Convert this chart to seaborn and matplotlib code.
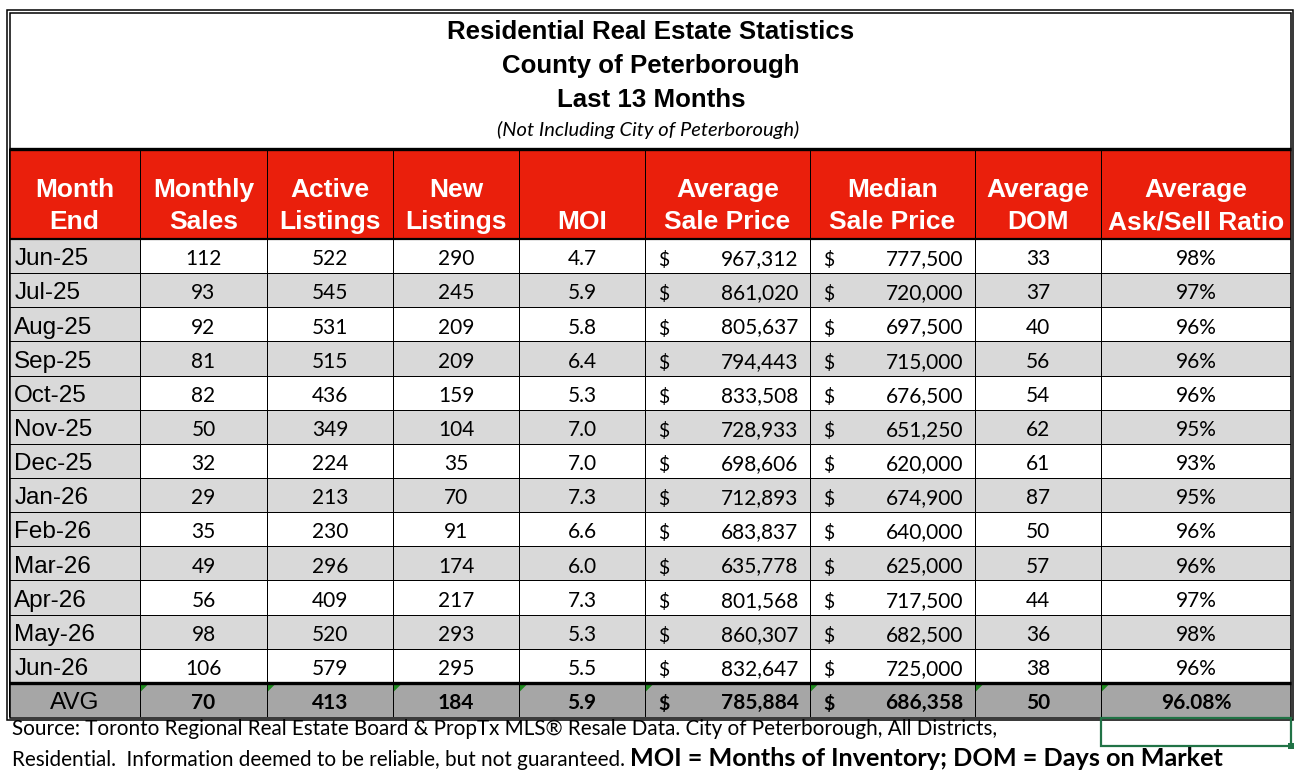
import matplotlib
matplotlib.use("Agg")
import matplotlib.pyplot as plt
import numpy as np
import pandas as pd
import seaborn as sns
from matplotlib.colors import ListedColormap

months = ["Jun-25", "Jul-25", "Aug-25", "Sep-25", "Oct-25", "Nov-25", "Dec-25",
          "Jan-26", "Feb-26", "Mar-26", "Apr-26", "May-26", "Jun-26"]
monthly_sales = [112, 93, 92, 81, 82, 50, 32, 29, 35, 49, 56, 98, 106]
active_listings = [522, 545, 531, 515, 436, 349, 224, 213, 230, 296, 409, 520, 579]
new_listings = [290, 245, 209, 209, 159, 104, 35, 70, 91, 174, 217, 293, 295]
moi = [4.7, 5.9, 5.8, 6.4, 5.3, 7.0, 7.0, 7.3, 6.6, 6.0, 7.3, 5.3, 5.5]
avg_sale_price = [967312, 861020, 805637, 794443, 833508, 728933, 698606,
                  712893, 683837, 635778, 801568, 860307, 832647]
median_sale_price = [777500, 720000, 697500, 715000, 676500, 651250, 620000,
                     674900, 640000, 625000, 717500, 682500, 725000]
avg_dom = [33, 37, 40, 56, 54, 62, 61, 87, 50, 57, 44, 36, 38]
ask_sell_ratio = [98, 97, 96, 96, 96, 95, 93, 95, 96, 96, 97, 98, 96]

avg_row = ["AVG", "70", "413", "184", "5.9", "785,884", "686,358", "50", "96.08%"]

headers = [("Month", "End"), ("Monthly", "Sales"), ("Active", "Listings"), ("New", "Listings"),
           ("", "MOI"), ("Average", "Sale Price"), ("Median", "Sale Price"),
           ("Average", "DOM"), ("Average", "Ask/Sell Ratio")]

title_lines = ["Residential Real Estate Statistics", "County of Peterborough", "Last 13 Months"]
subtitle = "(Not Including City of Peterborough)"
source_1 = ("Source: Toronto Regional Real Estate Board & PropTx MLS\u00ae Resale Data. "
            "City of Peterborough, All Districts,")
source_2 = "Residential.  Information deemed to be reliable, but not guaranteed. "
source_bold = "MOI = Months of Inventory; DOM = Days on Market"

table = pd.DataFrame({
    "month": months,
    "sales": [str(v) for v in monthly_sales],
    "active": [str(v) for v in active_listings],
    "new": [str(v) for v in new_listings],
    "moi": [f"{v:.1f}" for v in moi],
    "avg_price": [f"{v:,}" for v in avg_sale_price],
    "median_price": [f"{v:,}" for v in median_sale_price],
    "dom": [str(v) for v in avg_dom],
    "ratio": [f"{v}%" for v in ask_sell_ratio],
})
kinds = ["month", "center", "center", "center", "center", "money", "money", "center", "center"]

W, H = 1303, 775
COL_EDGES = [9, 140, 267, 393, 519, 645, 810, 975, 1101, 1291]
HEAD_Y = (149, 239)
BODY_Y = (239, 717)
N_BODY = len(months) + 1

RED = "#ea1f0c"
LIGHT = "#d9d9d9"
DARK = "#a6a6a6"
GREEN = "#217346"
cmap = ListedColormap(["white", LIGHT, RED, DARK])

ARIAL = "Liberation Sans"
CALIBRI = "Lato"

fig = plt.figure(figsize=(W / 100, H / 100), dpi=100)
fig.patch.set_facecolor("white")


def px_axes(x0, y0, x1, y1):
    return fig.add_axes([x0 / W, 1 - y1 / H, (x1 - x0) / W, (y1 - y0) / H])


def draw_cells(ax, codes):
    sns.heatmap(codes, ax=ax, cmap=cmap, vmin=-0.5, vmax=3.5, cbar=False,
                linewidths=0.6, linecolor="black", xticklabels=False, yticklabels=False)


for j, col in enumerate(table.columns):
    x0, x1 = COL_EDGES[j], COL_EDGES[j + 1]

    axh = px_axes(x0, HEAD_Y[0], x1, HEAD_Y[1])
    draw_cells(axh, np.array([[2]]))
    for line, yb in zip(headers[j], [0.535, 0.89]):
        axh.text(0.5, yb, line, ha="center", va="baseline", color="white",
                 fontsize=19, fontweight="bold", family=ARIAL)

    codes = np.array([1 if (j == 0 or i % 2 == 1) else 0 for i in range(len(months))] + [3])
    axb = px_axes(x0, BODY_Y[0], x1, BODY_Y[1])
    draw_cells(axb, codes.reshape(-1, 1))

    values = list(table[col]) + [avg_row[j]]
    for i, val in enumerate(values):
        is_avg = i == len(months)
        y = i + 0.77
        weight = "bold" if (is_avg and j > 0) else "normal"
        if kinds[j] == "month":
            if is_avg:
                axb.text(0.5, y, val, ha="center", va="baseline", fontsize=17.5, family=ARIAL)
            else:
                axb.text(0.04, y, val, ha="left", va="baseline", fontsize=17.5, family=ARIAL)
        elif kinds[j] == "money":
            axb.text(0.08, y + 0.03, "$", ha="left", va="baseline", fontsize=14,
                     family=CALIBRI, fontweight=weight)
            axb.text(0.93, y, val, ha="right", va="baseline", fontsize=15,
                     family=CALIBRI, fontweight=weight)
        else:
            axb.text(0.5, y, val, ha="center", va="baseline", fontsize=15,
                     family=CALIBRI, fontweight=weight)

# overlay for title, borders and footer
ov = fig.add_axes([0, 0, 1, 1])
ov.set_facecolor("none")
ov.set_xlim(0, W)
ov.set_ylim(H, 0)
ov.axis("off")

title_y = [32, 66, 100]
for line, y in zip(title_lines, title_y):
    ov.text(651, y, line, ha="center", va="center", fontsize=18.6, fontweight="bold", family=ARIAL)
ov.text(648, 130, subtitle, ha="center", va="center", fontsize=14.5, style="italic", family=CALIBRI)

# double outer border
ov.add_patch(plt.Rectangle((7, 10), 1286, 710, fill=False, lw=1.1, ec="black"))
ov.add_patch(plt.Rectangle((9.5, 12.5), 1281.5, 705, fill=False, lw=1.1, ec="black"))
# heavy rules
ov.hlines([HEAD_Y[0]], COL_EDGES[0], COL_EDGES[-1], color="black", lw=2.4)
ov.hlines([HEAD_Y[1]], COL_EDGES[0], COL_EDGES[-1], color="black", lw=1.6)
avg_top = BODY_Y[0] + (BODY_Y[1] - BODY_Y[0]) * len(months) / N_BODY
ov.hlines([avg_top], COL_EDGES[0], COL_EDGES[-1], color="black", lw=2.4)

# green error-indicator triangles in the AVG row
for x in COL_EDGES[1:-1]:
    ov.fill([x + 1, x + 8, x + 1], [avg_top + 1.5, avg_top + 1.5, avg_top + 8.5],
            color="#1e8a1e", lw=0)

# selected cell outline
ov.add_patch(plt.Rectangle((COL_EDGES[-2], 718), COL_EDGES[-1] - COL_EDGES[-2], 28,
                           fill=False, lw=1.6, ec=GREEN))
ov.add_patch(plt.Rectangle((COL_EDGES[-1] - 3, 743), 6, 6, color=GREEN, lw=0))

# footer
ov.text(12, 735, source_1, ha="left", va="baseline", fontsize=14.9, family=CALIBRI)
t2 = ov.text(12, 766, source_2, ha="left", va="baseline", fontsize=14.9, family=CALIBRI)
fig.canvas.draw()
bb = t2.get_window_extent()
x_end = ov.transData.inverted().transform((bb.x1, bb.y0))[0]
ov.text(x_end, 766, source_bold, ha="left", va="baseline", fontsize=18.2,
        fontweight="bold", family=CALIBRI)

fig.savefig("out.png", dpi=100)
